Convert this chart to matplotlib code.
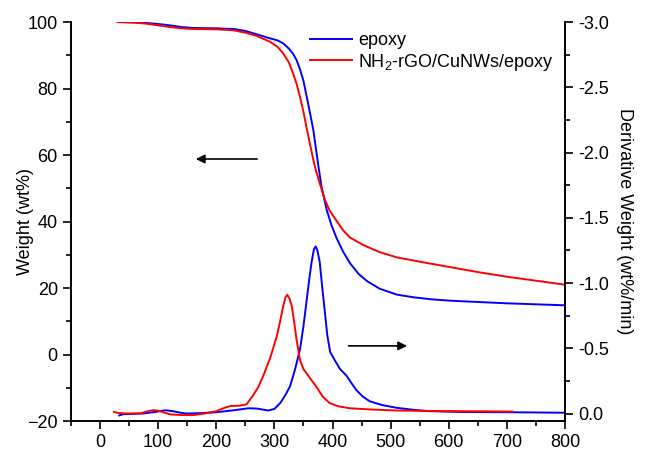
import matplotlib
matplotlib.use("Agg")
import matplotlib.pyplot as plt
from matplotlib.ticker import MultipleLocator

plt.rcParams['font.family'] = ['Liberation Sans', 'DejaVu Sans']
plt.rcParams['mathtext.fontset'] = 'custom'
plt.rcParams['mathtext.rm'] = 'Liberation Sans'
plt.rcParams['mathtext.default'] = 'regular'

# TGA weight curves (temperature, wt%)
epoxy_T = [34, 60, 80, 100, 120, 140, 160, 200, 230, 250, 270, 290, 305, 315, 325, 332, 338, 344,
           350, 358, 367, 375, 381, 390, 398, 407, 418, 430, 445, 460, 481, 511, 540, 570, 602,
           650, 700, 750, 800]
epoxy_w = [100.0, 99.9, 99.7, 99.4, 99.0, 98.5, 98.2, 98.1, 97.9, 97.3, 96.3, 95.2, 94.5, 93.6,
           92.0, 90.5, 88.6, 85.8, 82.3, 75.5, 67.5, 57.5, 50.5, 43.5, 39.0, 35.0, 31.0, 27.5,
           24.2, 22.0, 19.8, 18.0, 17.2, 16.6, 16.2, 15.8, 15.4, 15.1, 14.8]

comp_T = [30, 60, 80, 100, 120, 140, 160, 200, 230, 250, 270, 292, 305, 315, 325, 332, 338, 344,
          350, 355, 361, 367, 372, 378, 387, 395, 407, 418, 430, 452, 481, 511, 560, 602, 650,
          700, 750, 800]
comp_w = [100.0, 99.8, 99.5, 99.0, 98.5, 98.1, 97.9, 97.8, 97.5, 96.8, 95.8, 94.1, 92.6, 90.6,
          87.8, 84.6, 81.5, 77.5, 73.0, 68.5, 63.5, 58.5, 55.0, 51.5, 46.5, 43.3, 40.2, 37.4,
          35.2, 33.0, 30.8, 29.2, 27.6, 26.3, 24.8, 23.4, 22.2, 21.0]

# DTG curves (temperature, wt%/min)
epoxy_dT = [33, 40, 74, 95, 112, 125, 140, 149, 175, 200, 230, 255, 270, 289, 300, 310, 320, 327,
            335, 344, 350, 355, 360, 364, 368, 371, 374, 378, 382, 387, 391, 396, 405, 413, 424,
            433, 441, 452, 464, 485, 510, 540, 567, 620, 700, 800]
epoxy_d = [0.015, 0.005, 0.0, -0.012, -0.025, -0.018, -0.005, 0.0, -0.003, -0.01, -0.025, -0.04,
           -0.038, -0.023, -0.035, -0.08, -0.15, -0.21, -0.33, -0.49, -0.67, -0.85, -1.03, -1.16,
           -1.26, -1.28, -1.25, -1.16, -0.98, -0.77, -0.6, -0.47, -0.4, -0.34, -0.29, -0.23,
           -0.18, -0.13, -0.094, -0.065, -0.044, -0.028, -0.018, -0.012, -0.01, -0.006]

comp_dT = [24, 30, 46, 70, 85, 92, 100, 110, 120, 140, 160, 180, 200, 215, 225, 240, 252, 262,
           272, 281, 293, 304, 310, 315, 319, 322, 326, 330, 334, 338, 344, 350, 355, 363, 373,
           383, 395, 410, 430, 470, 510, 560, 610, 660, 710]
comp_d = [-0.013, -0.005, 0.0, -0.002, -0.02, -0.026, -0.022, -0.008, 0.006, 0.012, 0.012, 0.0,
          -0.018, -0.045, -0.058, -0.06, -0.07, -0.13, -0.2, -0.29, -0.43, -0.59, -0.71, -0.82,
          -0.89, -0.91, -0.88, -0.82, -0.7, -0.57, -0.41, -0.34, -0.31, -0.26, -0.2, -0.13,
          -0.08, -0.055, -0.04, -0.03, -0.023, -0.02, -0.018, -0.017, -0.015]

labels = ['epoxy', r'NH$_2$-rGO/CuNWs/epoxy']

fig = plt.figure(figsize=(6.46, 4.53), dpi=100)
ax = fig.add_axes([0.1099, 0.0706, 0.7647, 0.8808])
ax2 = ax.twinx()

l1, = ax.plot(epoxy_T, epoxy_w, color='#0000ff', lw=1.4)
l2, = ax.plot(comp_T, comp_w, color='#ff0000', lw=1.4)
ax2.plot(epoxy_dT, epoxy_d, color='#0000ff', lw=1.4)
ax2.plot(comp_dT, comp_d, color='#ff0000', lw=1.4)

ax.set_xlim(-50, 800)
ax.set_ylim(-20, 100)
ax2.set_ylim(0.0575, -3.0)

ax.xaxis.set_major_locator(MultipleLocator(100))
ax.xaxis.set_minor_locator(MultipleLocator(50))
ax.yaxis.set_major_locator(MultipleLocator(20))
ax.yaxis.set_minor_locator(MultipleLocator(10))
ax2.yaxis.set_major_locator(MultipleLocator(0.5))
ax2.yaxis.set_minor_locator(MultipleLocator(0.25))
ax2.yaxis.set_major_formatter(plt.FormatStrFormatter('%.1f'))
ax.set_xticks(range(0, 801, 100))

for a in (ax, ax2):
    a.spines['top'].set_visible(False)
    for s in a.spines.values():
        s.set_linewidth(1.2)
    a.tick_params(which='major', direction='out', length=6, width=1.2, labelsize=13)
    a.tick_params(which='minor', direction='out', length=3.5, width=1.2)
ax.tick_params(axis='y', which='both', right=False)
ax.tick_params(axis='x', which='both', top=False)

ax.set_ylabel('Weight (wt%)', fontsize=13, labelpad=-5)
ax2.set_ylabel('Derivative Weight (wt%/min)', fontsize=13, rotation=270, labelpad=17)

ax.annotate('', xy=(160, 58.8), xytext=(275, 58.8),
            arrowprops=dict(arrowstyle='-|>', color='black', lw=1.2, mutation_scale=13))
ax.annotate('', xy=(533, 2.6), xytext=(423, 2.6),
            arrowprops=dict(arrowstyle='-|>', color='black', lw=1.2, mutation_scale=13))

ax2.legend([l1, l2], labels, loc='upper left', bbox_to_anchor=(0.484, 0.975), frameon=False,
           fontsize=13, handlelength=2.3, handletextpad=0.35, labelspacing=0.15, borderpad=0,
           borderaxespad=0)

fig.savefig('out.png', dpi=100)
